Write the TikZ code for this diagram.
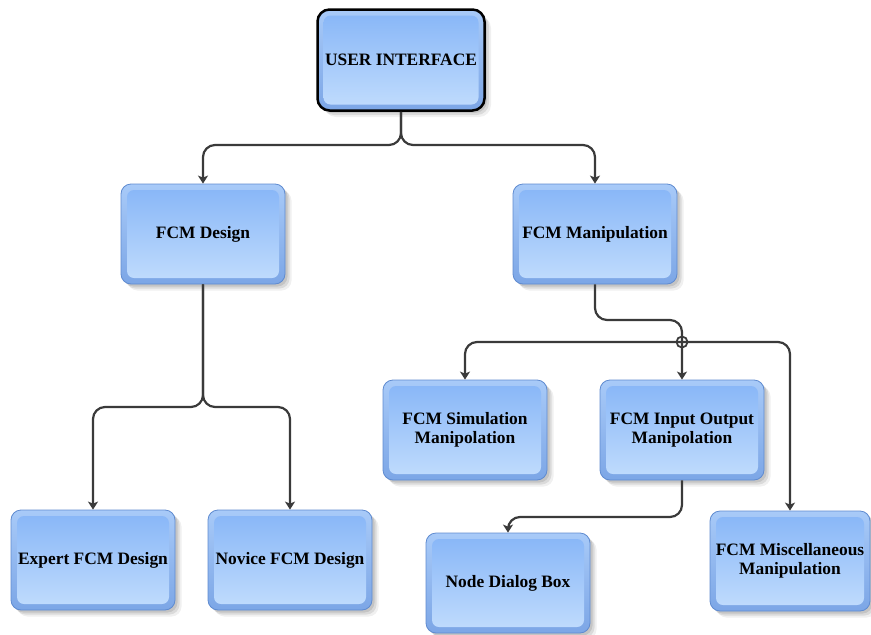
\documentclass[tikz,border=0pt]{standalone}
\usepackage{fontspec}
\setmainfont{Liberation Serif}
\usetikzlibrary{arrows.meta}

\definecolor{boxedge}{HTML}{5F8BD0}
\definecolor{rimtop}{HTML}{A8CAF8}
\definecolor{rimbot}{HTML}{7CA6E6}
\definecolor{filltop}{HTML}{86B5F7}
\definecolor{fillbot}{HTML}{C2DDFD}
\definecolor{wirecol}{HTML}{3A3A3A}

\newcommand\boxfont{\bfseries\fontsize{17.4}{19}\selectfont}

\tikzset{
  softshadow/.style={
    preaction={fill=black, opacity=0.10, transform canvas={shift={(2.5pt,-2.5pt)}}},
    preaction={fill=black, opacity=0.09, transform canvas={shift={(4.5pt,-4.5pt)}}},
    preaction={fill=black, opacity=0.06, transform canvas={shift={(6.5pt,-6.5pt)}}}
  },
  fcmbox/.style={
    rounded corners=10pt, minimum width=164pt, minimum height=100pt,
    inner sep=1pt, align=center, font=\boxfont, text=black,
    draw=boxedge, line width=0.8pt, top color=rimtop, bottom color=rimbot,
    softshadow,
    path picture={
      \shade[top color=filltop, bottom color=fillbot, rounded corners=7pt]
        ([shift={(6pt,-6pt)}]path picture bounding box.north west) rectangle
        ([shift={(-6pt,6pt)}]path picture bounding box.south east);
    }
  },
  uibox/.style={draw=black, line width=2.5pt, rounded corners=12pt,
    minimum width=167pt, minimum height=101pt},
  wire/.style={draw=wirecol, line width=2.2pt, rounded corners=12pt,
    -{Stealth[length=8pt, width=10pt, inset=2pt]}}
}

\begin{document}
\begin{tikzpicture}[x=1pt, y=-1pt]
\useasboundingbox (0,0) rectangle (871,635);

% boxes
\node[fcmbox, uibox] (ui)     at (401,60)  {USER INTERFACE};
\node[fcmbox] (design) at (203,234) {FCM Design};
\node[fcmbox] (manip)  at (595,234) {FCM Manipulation};
\node[fcmbox] (sim)    at (465,430) {FCM Simulation\\Manipolation};
\node[fcmbox] (inout)  at (682,430) {FCM Input Output\\Manipolation};
\node[fcmbox] (expert) at (93,560)  {Expert FCM Design};
\node[fcmbox] (novice) at (290,560) {Novice FCM Design};
\node[fcmbox] (dialog) at (508,583) {Node Dialog Box};
\node[fcmbox, minimum width=160pt] (misc) at (790,561) {FCM Miscellaneous\\Manipulation};

% routing points
\coordinate (uisplit) at (401,145);
\coordinate (dsplit)  at (203,407);
\coordinate (mbend)   at (595,320);
\coordinate (hub)     at (682,342);
\coordinate (iobend)  at (682,517);

% connectors
\draw[wire] (ui.south) -- (uisplit) -| (design.north);
\draw[wire] (ui.south) -- (uisplit) -| (manip.north);

\draw[wire] (design.south) -- (dsplit) -| (expert.north);
\draw[wire] (design.south) -- (dsplit) -| (novice.north);

\draw[wire] (manip.south) -- (mbend) -| (inout.north);
\draw[wire] (hub) -| (sim.north);
\draw[wire] (hub) -| (misc.north);
\draw[draw=wirecol, line width=1.8pt] (hub) circle (5.5pt);

\draw[wire] (inout.south) -- (iobend) -| (dialog.north);
\end{tikzpicture}
\end{document}
